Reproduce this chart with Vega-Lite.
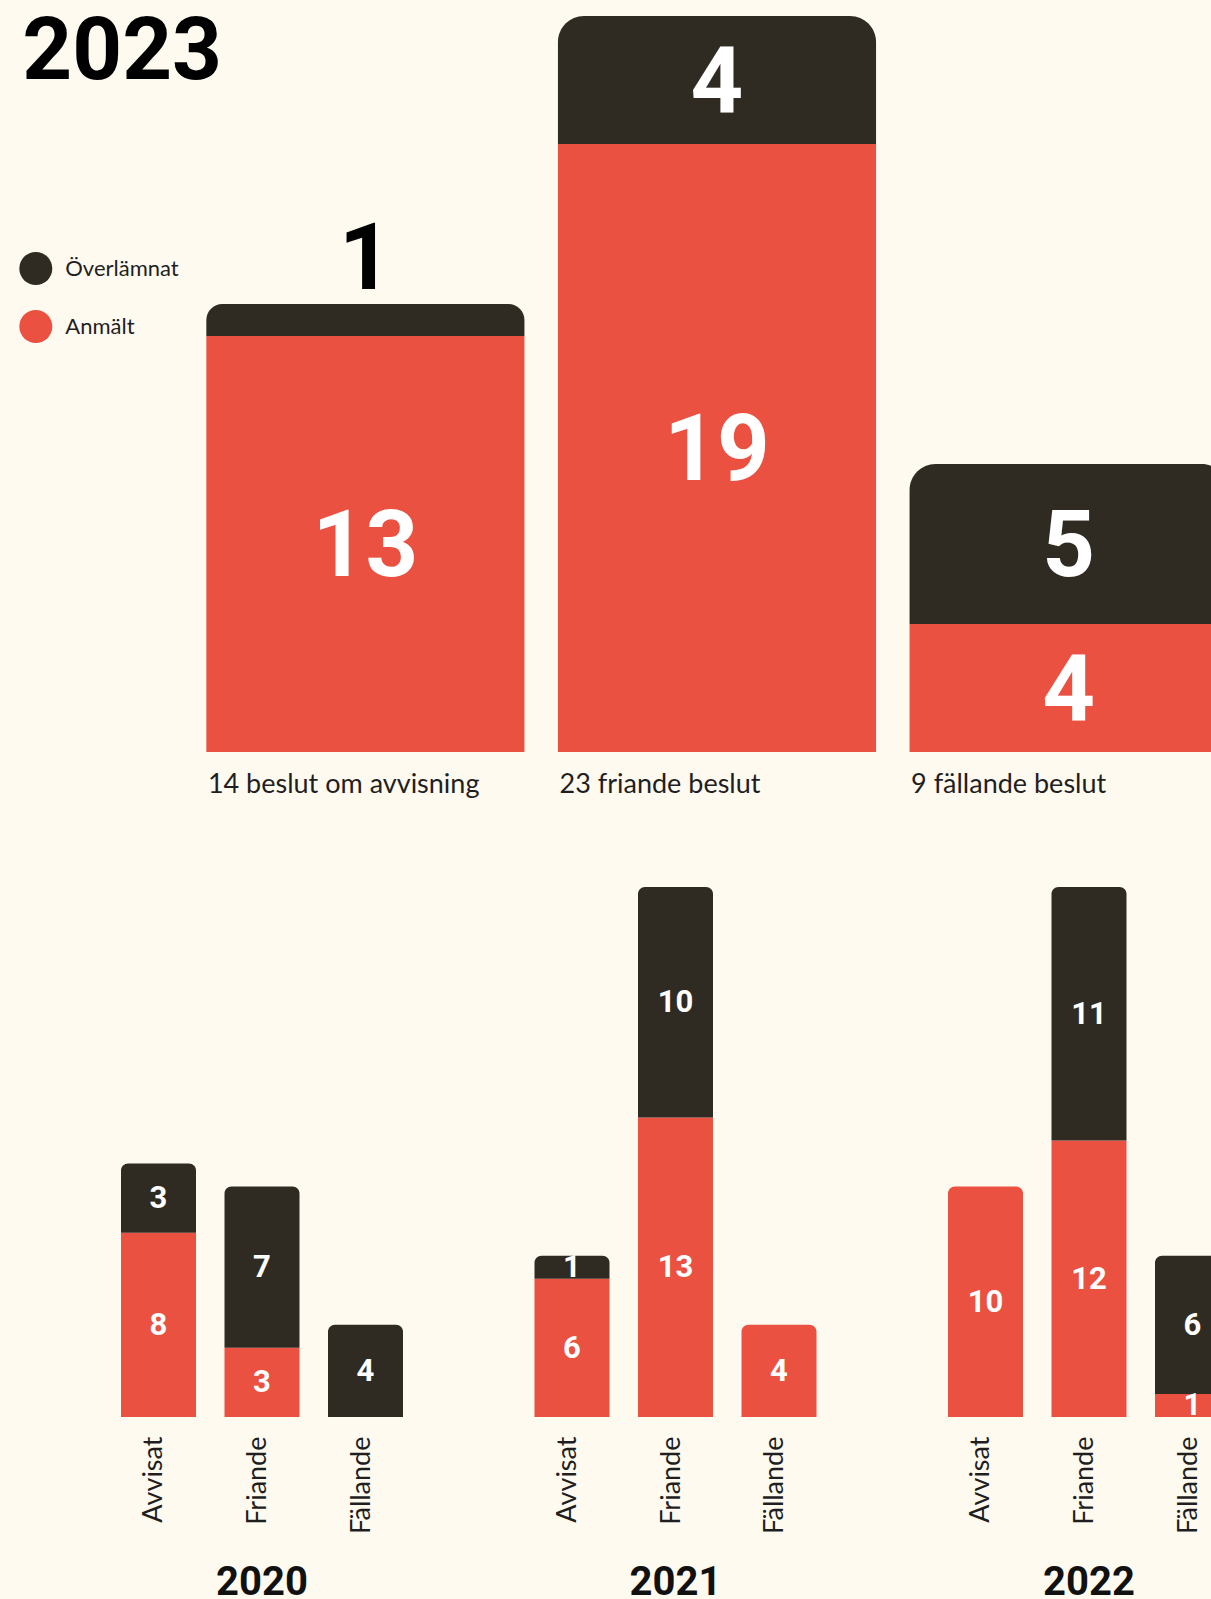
{
  "$schema": "https://vega.github.io/schema/vega-lite/v6.json",
  "background": "#fefaf0",
  "padding": {"left": 19, "top": 9, "right": 0, "bottom": 0},
  "title": {"text": "2023", "anchor": "start", "frame": "bounds", "offset": -81, "fontSize": 87, "font": "Roboto", "fontWeight": "bold", "color": "#000000", "dx": 3},
  "config": {
    "view": {"stroke": null},
    "font": "Lato",
    "legend": {"orient": "none", "legendX": -101.7, "legendY": 236, "padding": 0, "symbolType": "circle", "symbolSize": 1089, "symbolStrokeWidth": 0, "labelFont": "Lato", "labelFontSize": 22, "labelColor": "#1f1f1f", "labelOffset": 13, "rowPadding": 25}
  },
  "datasets": {
    "top": [
      {"beslut": "14 beslut om avvisning", "status": "Anmält", "ordning": 1, "antal": 13},
      {"beslut": "14 beslut om avvisning", "status": "Överlämnat", "ordning": 2, "antal": 1},
      {"beslut": "23 friande beslut", "status": "Anmält", "ordning": 1, "antal": 19},
      {"beslut": "23 friande beslut", "status": "Överlämnat", "ordning": 2, "antal": 4},
      {"beslut": "9 fällande beslut", "status": "Anmält", "ordning": 1, "antal": 4},
      {"beslut": "9 fällande beslut", "status": "Överlämnat", "ordning": 2, "antal": 5}
    ],
    "years": [
      {"year": "2020", "typ": "Avvisat", "status": "Anmält", "ordning": 1, "antal": 8},
      {"year": "2020", "typ": "Avvisat", "status": "Överlämnat", "ordning": 2, "antal": 3},
      {"year": "2020", "typ": "Friande", "status": "Anmält", "ordning": 1, "antal": 3},
      {"year": "2020", "typ": "Friande", "status": "Överlämnat", "ordning": 2, "antal": 7},
      {"year": "2020", "typ": "Fällande", "status": "Överlämnat", "ordning": 2, "antal": 4},
      {"year": "2021", "typ": "Avvisat", "status": "Anmält", "ordning": 1, "antal": 6},
      {"year": "2021", "typ": "Avvisat", "status": "Överlämnat", "ordning": 2, "antal": 1},
      {"year": "2021", "typ": "Friande", "status": "Anmält", "ordning": 1, "antal": 13},
      {"year": "2021", "typ": "Friande", "status": "Överlämnat", "ordning": 2, "antal": 10},
      {"year": "2021", "typ": "Fällande", "status": "Anmält", "ordning": 1, "antal": 4},
      {"year": "2022", "typ": "Avvisat", "status": "Anmält", "ordning": 1, "antal": 10},
      {"year": "2022", "typ": "Friande", "status": "Anmält", "ordning": 1, "antal": 12},
      {"year": "2022", "typ": "Friande", "status": "Överlämnat", "ordning": 2, "antal": 11},
      {"year": "2022", "typ": "Fällande", "status": "Anmält", "ordning": 1, "antal": 1},
      {"year": "2022", "typ": "Fällande", "status": "Överlämnat", "ordning": 2, "antal": 6}
    ]
  },
  "bounds": "flush",
  "spacing": 135,
  "resolve": {"scale": {"x": "independent", "y": "independent", "color": "shared"}, "legend": {"color": "shared"}},
  "vconcat": [
    {
      "data": {"name": "top"},
      "width": 1192,
      "height": 736,
      "transform": [
        {"stack": "antal", "groupby": ["beslut"], "sort": [{"field": "ordning", "order": "ascending"}], "as": ["y0", "y1"]},
        {"joinaggregate": [{"op": "max", "field": "y1", "as": "ytop"}], "groupby": ["beslut"]}
      ],
      "encoding": {
        "x": {
          "field": "beslut", "type": "nominal", "sort": null, "title": null,
          "scale": {"paddingInner": 0.0953, "paddingOuter": 0.2427},
          "axis": {"labelAlign": "left", "labelAngle": 0, "labelOffset": -157.5, "labelLimit": 500, "domain": false, "ticks": false, "labelFont": "Lato", "labelFontSize": 27, "labelColor": "#1f1f1f", "labelPadding": 19}
        }
      },
      "layer": [
        {
          "transform": [{"filter": "datum.y1 < datum.ytop"}],
          "mark": {"type": "bar"},
          "encoding": {
            "y": {"field": "y0", "type": "quantitative", "scale": {"domain": [0, 23], "nice": false}, "axis": null},
            "y2": {"field": "y1"},
            "color": {"field": "status", "type": "nominal", "scale": {"domain": ["Överlämnat", "Anmält"], "range": ["#2f2b23", "#ea5140"]}, "legend": {"title": null}}
          }
        },
        {
          "transform": [{"filter": "datum.y1 == datum.ytop"}],
          "mark": {"type": "bar", "cornerRadiusTopLeft": 26, "cornerRadiusTopRight": 26},
          "encoding": {
            "y": {"field": "y0", "type": "quantitative", "scale": {"domain": [0, 23], "nice": false}, "axis": null},
            "y2": {"field": "y1"},
            "color": {"field": "status", "type": "nominal", "scale": {"domain": ["Överlämnat", "Anmält"], "range": ["#2f2b23", "#ea5140"]}, "legend": {"title": null}}
          }
        },
        {
          "mark": {"type": "text", "font": "Roboto", "fontWeight": "bold", "fontSize": 92, "color": "#ffffff", "baseline": "middle", "dy": 4},
          "encoding": {
            "y": {"field": "antal", "type": "quantitative", "stack": "zero", "bandPosition": 0.5, "scale": {"domain": [0, 23], "nice": false}, "axis": null},
            "order": {"field": "ordning", "type": "quantitative"},
            "detail": {"field": "status"},
            "text": {"field": "antal", "type": "quantitative"},
            "opacity": {"condition": {"test": "datum.antal < 2", "value": 0}, "value": 1}
          }
        },
        {
          "transform": [{"filter": "datum.antal < 2"}],
          "mark": {"type": "text", "font": "Roboto", "fontWeight": "bold", "fontSize": 92, "color": "#000000", "baseline": "alphabetic", "dy": -15},
          "encoding": {
            "y": {"field": "y1", "type": "quantitative", "scale": {"domain": [0, 23], "nice": false}, "axis": null},
            "text": {"field": "antal", "type": "quantitative"}
          }
        }
      ]
    },
    {
      "data": {"name": "years"},
      "transform": [
        {"stack": "antal", "groupby": ["year", "typ"], "sort": [{"field": "ordning", "order": "ascending"}], "as": ["y0", "y1"]},
        {"joinaggregate": [{"op": "max", "field": "y1", "as": "ytop"}], "groupby": ["year", "typ"]}
      ],
      "facet": {
        "column": {
          "field": "year", "type": "ordinal", "title": null,
          "header": {"labelOrient": "bottom", "labelFont": "Roboto", "labelFontWeight": "bold", "labelFontSize": 40, "labelColor": "#111111", "labelPadding": 30}
        }
      },
      "spacing": {"column": 131.5},
      "bounds": "flush",
      "spec": {
        "width": 282,
        "height": 530,
        "encoding": {
          "x": {
            "field": "typ", "type": "nominal", "sort": ["Avvisat", "Friande", "Fällande"], "title": null,
            "scale": {"paddingInner": 0.2754, "paddingOuter": 0},
            "axis": {"labelAngle": -90, "labelAlign": "right", "labelBaseline": "middle", "labelOffset": -4, "domain": false, "ticks": false, "labelFont": "Lato", "labelFontSize": 27, "labelColor": "#1f1f1f", "labelPadding": 19}
          }
        },
        "layer": [
          {
            "transform": [{"filter": "datum.y1 < datum.ytop"}],
            "mark": {"type": "bar"},
            "encoding": {
              "y": {"field": "y0", "type": "quantitative", "scale": {"domain": [0, 23], "nice": false}, "axis": null},
              "y2": {"field": "y1"},
              "color": {"field": "status", "type": "nominal", "scale": {"domain": ["Överlämnat", "Anmält"], "range": ["#2f2b23", "#ea5140"]}, "legend": {"title": null}}
            }
          },
          {
            "transform": [{"filter": "datum.y1 == datum.ytop"}],
            "mark": {"type": "bar", "cornerRadiusTopLeft": 7, "cornerRadiusTopRight": 7},
            "encoding": {
              "y": {"field": "y0", "type": "quantitative", "scale": {"domain": [0, 23], "nice": false}, "axis": null},
              "y2": {"field": "y1"},
              "color": {"field": "status", "type": "nominal", "scale": {"domain": ["Överlämnat", "Anmält"], "range": ["#2f2b23", "#ea5140"]}, "legend": {"title": null}}
            }
          },
          {
            "mark": {"type": "text", "font": "Roboto", "fontWeight": "bold", "fontSize": 31, "color": "#ffffff", "baseline": "middle", "dy": 1},
            "encoding": {
              "y": {"field": "antal", "type": "quantitative", "stack": "zero", "bandPosition": 0.5, "scale": {"domain": [0, 23], "nice": false}, "axis": null},
              "order": {"field": "ordning", "type": "quantitative"},
              "detail": {"field": "status"},
              "text": {"field": "antal", "type": "quantitative"}
            }
          }
        ]
      }
    }
  ]
}
